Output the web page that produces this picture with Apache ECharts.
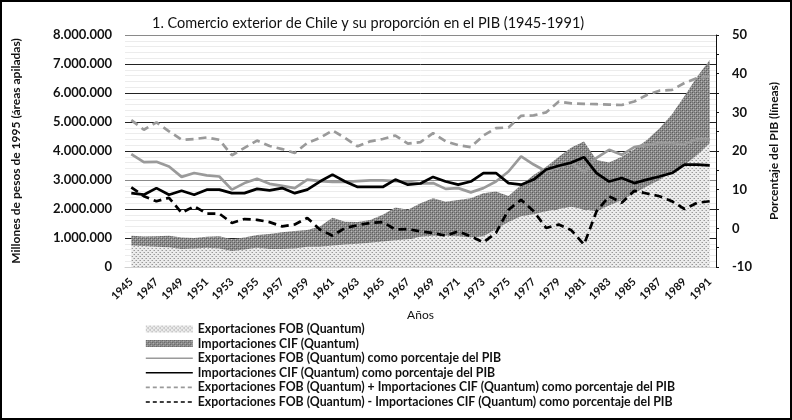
<!DOCTYPE html>
<html>
<head>
<meta charset="utf-8">
<script src="https://cdn.jsdelivr.net/npm/echarts@6/dist/echarts.min.js"></script>
<style>
html,body{margin:0;padding:0;background:#fff;}
#chart{width:792px;height:420px;}
</style>
</head>
<body>
<div id="chart"></div>
<script>
const years = [];
for (let y = 1945; y <= 1991; y++) years.push(String(y));

// Millones de pesos de 1995 (stacked areas)
const exportsFOB = [740000,720000,700000,680000,620000,640000,660000,640000,550000,600000,660000,620000,620000,640000,700000,700000,740000,780000,800000,840000,880000,920000,960000,1040000,1080000,1080000,1060000,1020000,1060000,1300000,1550000,1750000,1820000,1920000,2000000,2080000,1980000,1920000,2120000,2300000,2540000,2780000,3000000,3280000,3520000,3860000,4270000];
const importsCIF = [340000,330000,360000,400000,400000,360000,380000,420000,410000,420000,440000,520000,580000,600000,580000,700000,960000,780000,750000,780000,920000,1130000,1010000,1160000,1290000,1170000,1250000,1350000,1480000,1300000,900000,1080000,1350000,1540000,1800000,2040000,2350000,1770000,1480000,1500000,1520000,1600000,1780000,1990000,2380000,2700000,2870000];

// Porcentaje del PIB (lines)
const exportsPct = [19.2,17.1,17.2,16.0,13.3,14.3,13.7,13.4,10.0,11.7,12.8,11.5,11.0,10.4,12.6,12.2,12.0,12.0,12.2,12.4,12.4,12.2,12.0,11.6,11.7,10.2,10.4,9.3,10.4,12.1,14.7,18.6,16.5,14.7,15.8,16.9,14.6,18.2,20.3,19.0,21.0,21.6,22.1,22.0,21.8,23.1,23.0];
const importsPct = [9.1,8.7,10.4,8.7,9.7,8.7,10.0,10.0,9.1,9.1,10.2,9.8,10.4,9.1,10.0,12.1,13.9,12.1,10.7,10.7,10.7,12.6,11.3,11.6,13.3,12.1,11.3,12.1,14.3,14.3,11.7,11.3,12.6,15.2,16.2,17.0,18.4,14.3,12.1,13.0,11.7,12.6,13.4,14.3,16.5,16.5,16.3];
const sumPct = [28.0,25.5,27.4,25.1,22.9,23.1,23.5,22.9,18.9,20.8,22.7,21.3,20.5,19.5,22.1,23.4,25.3,23.4,21.2,22.5,23.1,24.0,21.9,22.3,24.6,22.5,21.5,21.0,24.0,25.9,26.1,29.1,29.2,30.0,32.8,32.3,32.2,32.1,32.0,31.9,32.8,34.5,35.6,35.8,37.6,38.9,39.3];
const diffPct = [10.6,8.3,7.0,7.9,4.0,5.7,3.8,3.8,1.4,2.4,2.2,1.6,0.5,1.0,2.7,-0.3,-1.9,0.1,0.8,1.4,1.6,-0.3,-0.2,-0.8,-1.2,-1.9,-0.8,-2.1,-3.6,-1.2,4.8,7.4,4.4,0.1,1.0,-0.5,-4.2,4.4,8.3,6.6,9.7,9.0,8.3,7.0,5.0,6.6,7.0];

const seriesNames = [
  'Exportaciones FOB (Quantum)',
  'Importaciones CIF (Quantum)',
  'Exportaciones FOB (Quantum) como porcentaje del PIB',
  'Importaciones CIF (Quantum) como porcentaje del PIB',
  'Exportaciones FOB (Quantum) + Importaciones CIF (Quantum) como porcentaje del PIB',
  'Exportaciones FOB (Quantum) - Importaciones CIF (Quantum) como porcentaje del PIB'
];

function makePattern(bg, dots) {
  const c = document.createElement('canvas');
  c.width = 4; c.height = 4;
  const ctx = c.getContext('2d');
  ctx.fillStyle = bg; ctx.fillRect(0, 0, 4, 4);
  dots.forEach(d => { ctx.fillStyle = d[2]; ctx.fillRect(d[0], d[1], 1, 1); });
  return c;
}
const expPattern = {image: makePattern('#ececec', [[0,0,'#9a9a9a'],[2,2,'#9a9a9a'],[3,0,'#c4c4c4'],[1,2,'#c4c4c4']]), repeat: 'repeat'};
const impPattern = {image: makePattern('#8e8e8e', [[0,0,'#5c5c5c'],[2,2,'#5c5c5c'],[1,1,'#b8b8b8'],[3,3,'#b8b8b8'],[2,0,'#707070'],[0,2,'#707070']]), repeat: 'repeat'};

function fmtThousands(v) {
  return String(Math.round(v)).replace(/\B(?=(\d{3})+(?!\d))/g, '.');
}

const FONT = 'Lato, "Liberation Sans", sans-serif';
const chart = echarts.init(document.getElementById('chart'), null, {renderer: 'canvas'});

const hiddenSymbol = {opacity: 0};

const option = {
  animation: false,
  backgroundColor: '#fff',
  textStyle: {fontFamily: FONT},
  title: {
    text: '1. Comercio exterior de Chile y su proporción en el PIB (1945-1991)',
    left: 147, top: 11,
    textStyle: {fontFamily: FONT, fontSize: 14.5, fontWeight: 'normal', color: '#111'}
  },
  graphic: [{
    type: 'rect', shape: {x: 1, y: 1, width: 790, height: 418},
    style: {fill: null, stroke: '#000', lineWidth: 2}, silent: true, z: 100
  }],
  grid: {left: 125, right: 76, top: 35, bottom: 153, containLabel: false},
  legend: {
    orient: 'vertical', left: 145, top: 322, padding: 0, height: 96,
    itemWidth: 47, itemHeight: 7, itemGap: 0.6,
    lineStyle: {width: 1.6},
    textStyle: {fontFamily: FONT, fontSize: 12.3, fontWeight: 'bold', lineHeight: 14, color: '#111'},
    data: [
      {name: seriesNames[0], icon: 'rect', itemStyle: {color: expPattern, opacity: 1}},
      {name: seriesNames[1], icon: 'rect', itemStyle: {color: impPattern, opacity: 1}},
      {name: seriesNames[2], itemStyle: hiddenSymbol},
      {name: seriesNames[3], itemStyle: hiddenSymbol},
      {name: seriesNames[4], itemStyle: hiddenSymbol, lineStyle: {width: 1.6, type: [4, 3]}},
      {name: seriesNames[5], itemStyle: hiddenSymbol, lineStyle: {width: 1.6, type: [4, 3]}}
    ]
  },
  xAxis: {
    type: 'category', data: years, boundaryGap: true,
    name: 'Años', nameLocation: 'middle', nameGap: 38,
    nameTextStyle: {fontFamily: FONT, fontSize: 12, color: '#111'},
    axisLine: {show: true, lineStyle: {color: '#d0d0d0'}},
    axisTick: {show: false},
    axisLabel: {interval: 1, rotate: 45, fontFamily: FONT, fontSize: 11, fontWeight: 'bold', color: '#111', margin: 13}
  },
  yAxis: [{
    type: 'value', min: 0, max: 8000000, interval: 1000000,
    name: 'Millones de pesos de 1995 (áreas apiladas)', nameLocation: 'middle', nameGap: 103, nameRotate: 90,
    nameTextStyle: {fontFamily: FONT, fontSize: 12, fontWeight: 'bold', color: '#111'},
    axisLine: {show: false}, axisTick: {show: false},
    axisLabel: {formatter: fmtThousands, fontFamily: FONT, fontSize: 13, fontWeight: 'bold', color: '#111', margin: 13},
    splitLine: {show: true, lineStyle: {color: ['#dcdcdc','#222','#222','#8a8a8a','#222','#222','#222','#222','#8a8a8a'], width: 1}},
    minorTick: {show: false, splitNumber: 5},
    minorSplitLine: {show: true, lineStyle: {color: '#ececec', width: 1}}
  }, {
    type: 'value', min: -10, max: 50, interval: 10, position: 'right',
    name: 'Porcentaje del PIB (líneas)', nameLocation: 'middle', nameGap: 52, nameRotate: 90,
    nameTextStyle: {fontFamily: FONT, fontSize: 12, fontWeight: 'bold', color: '#111'},
    axisLine: {show: true, lineStyle: {color: '#111', width: 1}},
    axisTick: {show: true, inside: false, length: 3, lineStyle: {color: '#111'}},
    minorTick: {show: true, splitNumber: 2, length: 3, lineStyle: {color: '#111'}},
    axisLabel: {fontFamily: FONT, fontSize: 13, fontWeight: 'bold', color: '#111', margin: 16},
    splitLine: {show: false}
  }],
  series: [
    {
      name: seriesNames[0], type: 'line', stack: 'trade', yAxisIndex: 0,
      data: exportsFOB, symbol: 'none', smooth: false,
      lineStyle: {width: 0}, itemStyle: {color: '#d0d0d0'},
      areaStyle: {color: expPattern, opacity: 1}, z: 1
    },
    {
      name: seriesNames[1], type: 'line', stack: 'trade', yAxisIndex: 0,
      data: importsCIF, symbol: 'none', smooth: false,
      lineStyle: {width: 0}, itemStyle: {color: '#888'},
      areaStyle: {color: impPattern, opacity: 1}, z: 1
    },
    {
      name: seriesNames[2], type: 'line', yAxisIndex: 1, data: exportsPct, symbol: 'none',
      lineStyle: {color: '#9a9a9a', width: 2.7, type: 'solid'}, itemStyle: {color: '#9a9a9a'}, z: 3
    },
    {
      name: seriesNames[3], type: 'line', yAxisIndex: 1, data: importsPct, symbol: 'none',
      lineStyle: {color: '#000', width: 2.7, type: 'solid'}, itemStyle: {color: '#000'}, z: 4
    },
    {
      name: seriesNames[4], type: 'line', yAxisIndex: 1, data: sumPct, symbol: 'none',
      lineStyle: {color: '#9a9a9a', width: 2.7, type: [8, 5]}, itemStyle: {color: '#9a9a9a'}, z: 3
    },
    {
      name: seriesNames[5], type: 'line', yAxisIndex: 1, data: diffPct, symbol: 'none',
      lineStyle: {color: '#000', width: 2.7, type: [8, 5]}, itemStyle: {color: '#000'}, z: 4
    }
  ]
};
chart.setOption(option);
</script>
</body>
</html>
